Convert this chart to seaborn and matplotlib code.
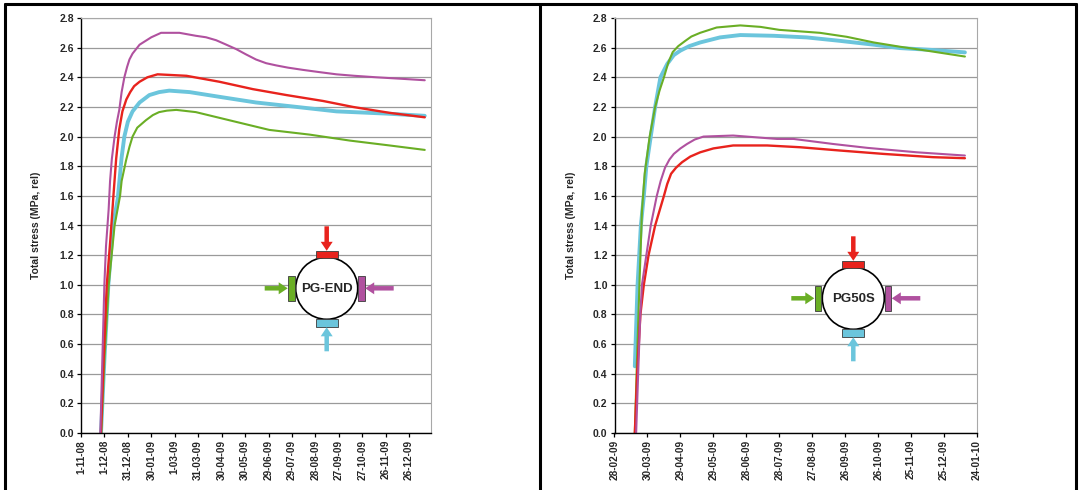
import pandas as pd
import matplotlib.pyplot as plt
from matplotlib.patches import Circle, Rectangle, FancyArrow
from matplotlib.lines import Line2D
import seaborn as sns

# ---- PG-END gauge (left panel), days after 1-11-08 ----
END_START = "2008-11-01"
end_right_days = [24.8, 29.9, 32, 35.4, 37.2, 39.5, 43, 46, 49, 52, 55.5, 59, 62, 66, 70.5, 75, 81, 90,
                  102.5, 126, 147, 160, 173, 186, 198.7, 211, 224, 237, 250, 265, 284, 305, 327, 350,
                  378, 410, 440]
end_right_vals = [0.0, 1.0, 1.26, 1.51, 1.70, 1.85, 2.0, 2.10, 2.18, 2.30, 2.40, 2.47, 2.52, 2.56, 2.59,
                  2.62, 2.64, 2.67, 2.70, 2.70, 2.68, 2.67, 2.65, 2.62, 2.59, 2.555, 2.52, 2.495, 2.48,
                  2.465, 2.45, 2.435, 2.42, 2.41, 2.40, 2.39, 2.38]
end_top_days = [25.5, 29, 33, 37.5, 41.5, 45, 49, 53, 58, 63, 68, 75, 85, 98, 135, 177, 220, 263, 310,
                348, 395, 440]
end_top_vals = [0.0, 0.5, 1.0, 1.30, 1.60, 1.85, 2.05, 2.17, 2.25, 2.30, 2.34, 2.37, 2.40, 2.42, 2.41,
                2.37, 2.32, 2.28, 2.24, 2.20, 2.16, 2.13]
end_bottom_days = [25.6, 30, 35, 41, 47, 49.5, 52, 55.5, 60, 66, 75, 87.5, 100, 113, 139, 181, 224, 276,
                   327, 391, 440]
end_bottom_vals = [0.0, 0.5, 1.0, 1.40, 1.58, 1.72, 1.86, 2.0, 2.10, 2.17, 2.23, 2.28, 2.30, 2.31, 2.30,
                   2.265, 2.23, 2.20, 2.17, 2.155, 2.14]
end_left_days = [26, 30, 35.5, 43, 50, 52, 57.7, 62, 66, 72, 83, 92, 100, 110, 122, 147, 190, 241, 293,
                 344, 395, 440]
end_left_vals = [0.0, 0.5, 1.0, 1.40, 1.60, 1.70, 1.84, 1.93, 2.0, 2.06, 2.11, 2.145, 2.165, 2.175, 2.18,
                 2.165, 2.11, 2.045, 2.013, 1.973, 1.94, 1.91]
END_TICKS = ["1-11-08", "1-12-08", "31-12-08", "30-01-09", "1-03-09", "31-03-09", "30-04-09",
             "30-05-09", "29-06-09", "29-07-09", "28-08-09", "27-09-09", "27-10-09", "26-11-09",
             "26-12-09"]

# ---- PG50S gauge (right panel), days after 28-02-09 ----
S50_START = "2009-02-28"
s50_left_days = [18.5, 20.5, 22.7, 25, 27.5, 32, 37, 41, 45, 49, 53, 58, 64.5, 70, 78, 93, 114.5, 133,
                 150, 187, 211.5, 236, 260, 284, 319]
s50_left_vals = [0.0, 0.5, 1.0, 1.5, 1.75, 2.0, 2.2, 2.31, 2.4, 2.50, 2.57, 2.61, 2.646, 2.675, 2.70,
                 2.736, 2.75, 2.74, 2.72, 2.70, 2.673, 2.635, 2.606, 2.58, 2.54]
s50_bottom_days = [18.5, 21, 24, 26.7, 29, 33, 37, 41.8, 48, 54, 60, 68, 78, 96, 114.5, 145, 175, 205,
                   236, 260, 290, 319]
s50_bottom_vals = [0.45, 1.0, 1.4, 1.6, 1.8, 2.0, 2.2, 2.40, 2.49, 2.55, 2.58, 2.61, 2.635, 2.669, 2.685,
                   2.68, 2.669, 2.646, 2.62, 2.597, 2.584, 2.568]
s50_right_days = [19.7, 22, 23.5, 25, 29, 33, 38.5, 42, 46, 50, 54, 60, 66, 73, 81, 108, 148, 163, 199,
                  230, 275, 319]
s50_right_vals = [0.0, 0.5, 0.8, 1.0, 1.2, 1.4, 1.6, 1.70, 1.79, 1.845, 1.883, 1.92, 1.95, 1.98, 2.0,
                  2.007, 1.984, 1.984, 1.95, 1.924, 1.894, 1.872]
s50_top_days = [18.5, 20.6, 23.6, 26.7, 31, 37, 45, 48, 51.5, 56, 61.5, 69, 78, 90, 108, 139, 169, 205,
                245, 290, 319]
s50_top_vals = [0.0, 0.4, 0.8, 1.0, 1.2, 1.4, 1.6, 1.68, 1.749, 1.79, 1.827, 1.865, 1.894, 1.92, 1.94,
                1.94, 1.928, 1.906, 1.883, 1.861, 1.854]
S50_TICKS = ["28-02-09", "30-03-09", "29-04-09", "29-05-09", "28-06-09", "28-07-09", "27-08-09",
             "26-09-09", "26-10-09", "25-11-09", "25-12-09", "24-01-10"]

Y_TICKS = [0.0, 0.2, 0.4, 0.6, 0.8, 1.0, 1.2, 1.4, 1.6, 1.8, 2.0, 2.2, 2.4, 2.6, 2.8]

GAUGE_ORDER = ["bottom", "left", "top", "right"]
PALETTE = {"top": "#E8231D", "bottom": "#6BC5DC", "left": "#6AAE25", "right": "#B0519F"}
WIDTHS = {"top": 1.7, "bottom": 2.8, "left": 1.5, "right": 1.5}

sns.set_theme(style="white")
plt.rcParams["font.family"] = ["Liberation Sans", "DejaVu Sans"]
plt.rcParams["font.weight"] = "bold"

W, H = 1080, 490


def frame(start, series):
    rows = []
    for name, days, vals in series:
        for d, v in zip(days, vals):
            rows.append({"date": pd.Timestamp(start) + pd.Timedelta(days=d), "stress": v, "gauge": name})
    return pd.DataFrame(rows)


def style_axes(ax, ticks, xmax, ylab_x):
    ax.set_ylim(0, 2.8)
    ax.set_yticks(Y_TICKS)
    ax.set_yticklabels([f"{v:.1f}" for v in Y_TICKS], fontsize=7.5, fontweight="bold")
    tick_dates = pd.to_datetime(ticks, format="%d-%m-%y")
    ax.set_xticks(tick_dates)
    ax.set_xticklabels(ticks, rotation=90, fontsize=7.2, fontweight="bold")
    ax.set_xlim(tick_dates[0], xmax)
    ax.grid(axis="y", color="#9a9a9a", lw=0.9)
    ax.grid(axis="x", visible=False)
    ax.set_axisbelow(True)
    for s in ["top", "right"]:
        ax.spines[s].set_color("#a8a8a8")
        ax.spines[s].set_linewidth(0.8)
    for s in ["left", "bottom"]:
        ax.spines[s].set_color("black")
        ax.spines[s].set_linewidth(1.0)
    ax.tick_params(axis="both", direction="out", length=3, width=0.9, color="black", pad=2,
                   bottom=True, left=True)
    ax.set_xlabel("")
    ax.set_ylabel("Total stress (MPa, rel)", fontsize=7.5, fontweight="bold")
    ax.yaxis.set_label_coords(ylab_x, 0.5)


def gauge_diagram(fig, cx, cy, label):
    # inset in figure pixels, y downward
    half = 75
    dax = fig.add_axes([(cx - half) / W, (H - (cy + half)) / H, 2 * half / W, 2 * half / H])
    dax.set_xlim(-half, half)
    dax.set_ylim(half, -half)
    dax.axis("off")
    dax.add_patch(Circle((0, 0), 31, facecolor="white", edgecolor="black", lw=1.2, zorder=2))
    ec = "#3a3a3a"
    dax.add_patch(Rectangle((-11, -37), 22, 7, facecolor=PALETTE["top"], edgecolor=ec, lw=0.6, zorder=3))
    dax.add_patch(Rectangle((-11, 31), 22, 7.5, facecolor=PALETTE["bottom"], edgecolor=ec, lw=0.6, zorder=3))
    dax.add_patch(Rectangle((-38.5, -12.5), 6.5, 25.5, facecolor=PALETTE["left"], edgecolor=ec, lw=0.6, zorder=3))
    dax.add_patch(Rectangle((31.5, -12.5), 6.5, 25.5, facecolor=PALETTE["right"], edgecolor=ec, lw=0.6, zorder=3))
    akw = dict(width=4.5, head_width=12, head_length=9, length_includes_head=True, lw=0, zorder=4)
    dax.add_patch(FancyArrow(0, -62, 0, 24.5, color=PALETTE["top"], **akw))
    dax.add_patch(FancyArrow(0, 63, 0, -24, color=PALETTE["bottom"], **akw))
    dax.add_patch(FancyArrow(-62, 0, 23, 0, color=PALETTE["left"], **akw))
    dax.add_patch(FancyArrow(67, 0, -28.5, 0, color=PALETTE["right"], **akw))
    dax.text(0, 0.5, label, ha="center", va="center", fontsize=9.5, fontweight="bold",
             family=["Liberation Sans Narrow", "Liberation Sans", "DejaVu Sans"], zorder=5)


fig = plt.figure(figsize=(W / 100, H / 100), dpi=100)
ax1 = fig.add_axes([81 / W, (H - 433) / H, 350 / W, 415 / H])
ax2 = fig.add_axes([614.5 / W, (H - 433) / H, 362.5 / W, 415 / H])

df_end = frame(END_START, [("right", end_right_days, end_right_vals),
                           ("top", end_top_days, end_top_vals),
                           ("bottom", end_bottom_days, end_bottom_vals),
                           ("left", end_left_days, end_left_vals)])
df_s50 = frame(S50_START, [("left", s50_left_days, s50_left_vals),
                           ("bottom", s50_bottom_days, s50_bottom_vals),
                           ("right", s50_right_days, s50_right_vals),
                           ("top", s50_top_days, s50_top_vals)])

for ax, df in [(ax1, df_end), (ax2, df_s50)]:
    sns.lineplot(data=df, x="date", y="stress", hue="gauge", hue_order=GAUGE_ORDER,
                 size="gauge", size_order=GAUGE_ORDER, sizes=WIDTHS, palette=PALETTE,
                 estimator=None, sort=False, legend=False, ax=ax)

style_axes(ax1, END_TICKS, pd.Timestamp(END_START) + pd.Timedelta(days=448), -0.114)
style_axes(ax2, S50_TICKS, pd.to_datetime(S50_TICKS[-1], format="%d-%m-%y"), -0.106)

gauge_diagram(fig, 326.7, 288.3, "PG-END")
gauge_diagram(fig, 853.3, 298.3, "PG50S")

# panel frame
for xs, ys in [([4.5, 4.5], [H, 4.5]), ([4.5, 1076], [4.5, 4.5]), ([540, 540], [H, 4.5]),
               ([1076, 1076], [H, 4.5])]:
    fig.add_artist(Line2D([x / W for x in xs], [1 - y / H for y in ys], color="black", lw=2.2,
                          transform=fig.transFigure))

fig.savefig("out.png", dpi=100)
